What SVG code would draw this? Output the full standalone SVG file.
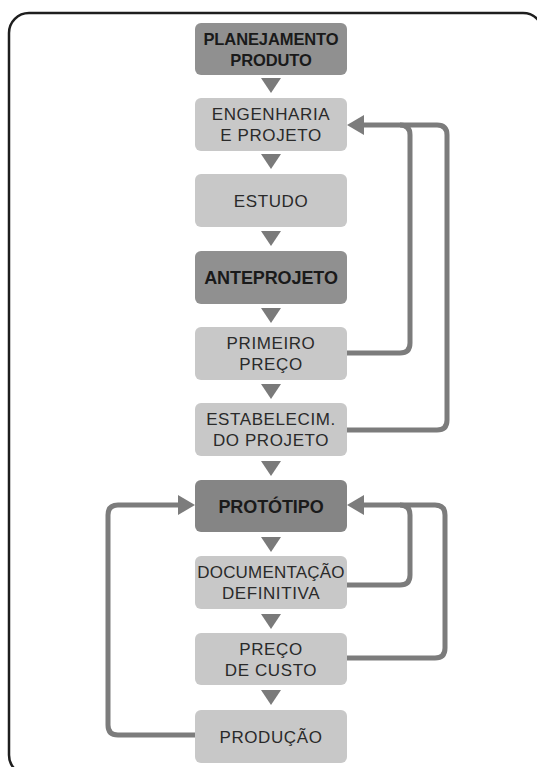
<svg xmlns="http://www.w3.org/2000/svg" width="537" height="767" viewBox="0 0 537 767">
<style>
.frame{fill:#fff;stroke:#1e1e1e;stroke-width:2.5}
.dark{fill:#909090}
.light{fill:#c8c8c8}
.tri{fill:#7a7a7a}
.t{font-family:"Liberation Sans",Arial,sans-serif;font-size:17px;text-anchor:middle;letter-spacing:0.6px}
.td{font-weight:bold;fill:#1a1a1a;letter-spacing:-0.1px}
.tl{fill:#2a2a2a}
.conn{fill:none;stroke:#7c7c7c;stroke-width:5;stroke-linejoin:round}
.ah{fill:#7c7c7c}
</style>
<rect class="frame" x="9" y="13" width="534" height="762" rx="20"/>
<g id="connectors">
<path class="conn" d="M347,353 H400 Q410,353 410,343 V135 Q410,125 400,125 H362"/>
<path class="conn" d="M347,430 H437 Q447,430 447,420 V135 Q447,125 437,125 H400"/>
<polygon class="ah" points="347,125 364,115 364,135"/>
<path class="conn" d="M347,585 H400 Q410,585 410,575 V515 Q410,505 400,505 H362"/>
<path class="conn" d="M347,658 H435 Q445,658 445,648 V515 Q445,505 435,505 H400"/>
<polygon class="ah" points="347,505 364,495 364,515"/>
<path class="conn" d="M195,735 H118 Q108,735 108,725 V515 Q108,505 118,505 H180"/>
<polygon class="ah" points="195,505 178,495 178,515"/>
<polygon class="tri" points="261,78 281,78 271,93"/>
<polygon class="tri" points="261,154 281,154 271,169"/>
<polygon class="tri" points="261,231 281,231 271,246"/>
<polygon class="tri" points="261,308 281,308 271,323"/>
<polygon class="tri" points="261,384 281,384 271,399"/>
<polygon class="tri" points="261,461 281,461 271,476"/>
<polygon class="tri" points="261,537 281,537 271,552"/>
<polygon class="tri" points="261,614 281,614 271,629"/>
<polygon class="tri" points="261,690 281,690 271,705"/>
</g>
<g id="n1"><rect class="dark" x="195" y="23" width="152" height="52" rx="6"/>
<text class="t td" x="271" y="45" style="font-size:16.5px">PLANEJAMENTO</text><text class="t td" x="271" y="66" style="font-size:16.5px">PRODUTO</text></g>
<g id="n2"><rect class="light" x="195" y="98" width="152" height="53" rx="6"/>
<text class="t tl" x="271" y="120">ENGENHARIA</text><text class="t tl" x="271" y="141">E PROJETO</text></g>
<g id="n3"><rect class="light" x="195" y="174" width="152" height="53" rx="6"/>
<text class="t tl" x="271" y="207">ESTUDO</text></g>
<g id="n4"><rect class="dark" x="195" y="251" width="152" height="53" rx="6"/>
<text class="t td" x="271" y="284" style="font-size:18px">ANTEPROJETO</text></g>
<g id="n5"><rect class="light" x="195" y="327" width="152" height="53" rx="6"/>
<text class="t tl" x="271" y="349">PRIMEIRO</text><text class="t tl" x="271" y="370">PREÇO</text></g>
<g id="n6"><rect class="light" x="195" y="403" width="152" height="53" rx="6"/>
<text class="t tl" x="271" y="425">ESTABELECIM.</text><text class="t tl" x="271" y="446">DO PROJETO</text></g>
<g id="n7"><rect class="dark" x="195" y="480" width="152" height="52" rx="6" style="fill:#858585"/>
<text class="t td" x="271" y="513" style="font-size:18px">PROTÓTIPO</text></g>
<g id="n8"><rect class="light" x="195" y="556" width="152" height="53" rx="6"/>
<text class="t tl" x="271" y="578" style="letter-spacing:0.2px">DOCUMENTAÇÃO</text><text class="t tl" x="271" y="599">DEFINITIVA</text></g>
<g id="n9"><rect class="light" x="195" y="633" width="152" height="52" rx="6"/>
<text class="t tl" x="271" y="655">PREÇO</text><text class="t tl" x="271" y="676">DE CUSTO</text></g>
<g id="n10"><rect class="light" x="195" y="710" width="152" height="53" rx="6"/>
<text class="t tl" x="271" y="743">PRODUÇÃO</text></g>
</svg>
